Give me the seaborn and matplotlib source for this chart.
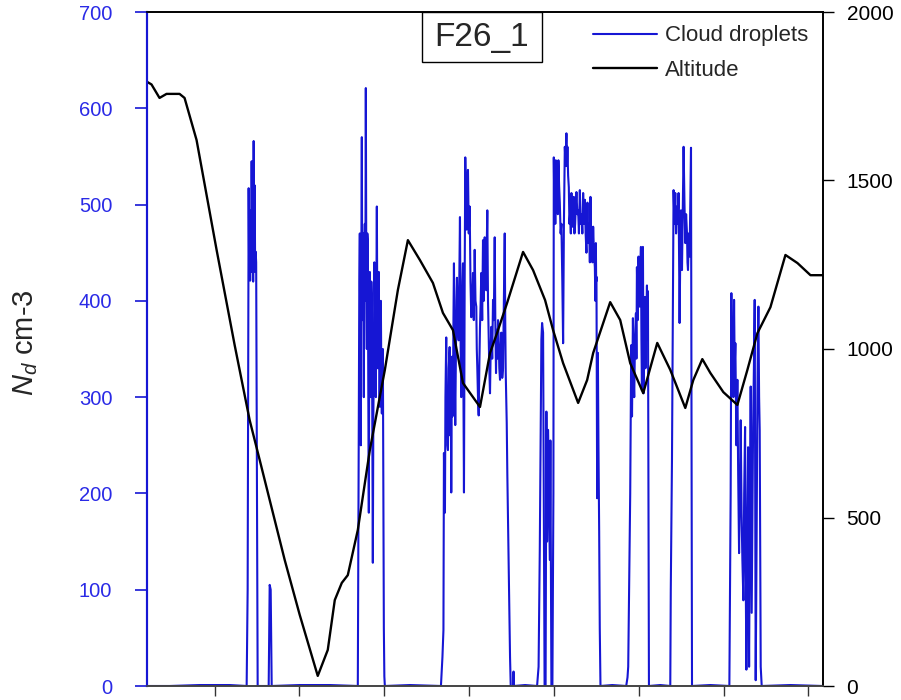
import numpy as np
import pandas as pd
import matplotlib
matplotlib.use("Agg")
import matplotlib.pyplot as plt
from matplotlib.patches import Rectangle
import seaborn as sns

# ---- flight F26_1: cloud droplet number concentration (cm-3) vs time ----
t_drop = [
    148, 170, 200, 230, 247,
    # first cloud pass
    248, 249, 249.5, 250, 250.5, 251, 251.5, 252, 252.5, 253, 253.5, 254, 254.5,
    255, 255.5, 256, 256.5, 257, 258,
    269, 270, 271, 272,
    300, 330, 357,
    # second cloud pass
    358, 358.5, 359, 359.5, 360, 360.5, 361, 361.5, 362, 362.5, 363, 363.5, 364,
    364.5, 365, 365.5, 366, 366.5, 367, 367.5, 368, 368.5, 369, 369.5, 370,
    370.5, 371, 371.5, 372, 372.5, 373, 373.5, 374, 374.5, 375, 375.5, 376,
    376.5, 377, 377.5, 378, 378.5, 379, 379.5, 380, 380.5, 381, 381.5, 382,
    382.5, 383, 383.5, 384, 384.5, 385,
    410, 441,
    # third cloud pass
    442.5, 443.5, 444, 444.5, 445, 445.5, 446.3, 446.7, 447, 447.5, 448, 448.8,
    449.7, 450.1, 450.5, 450.9, 451.3, 451.7, 452, 452.5, 453, 453.5, 454, 454.7,
    455.3, 455.7, 456, 456.5, 457, 457.8, 458.7, 459.3, 460, 460.7, 461.3, 461.7,
    462, 462.5, 463, 463.5, 464, 464.7, 465.3, 466, 466.7, 467.3, 468, 468.8,
    469.7, 470.5, 471.3, 472.2, 473, 473.8, 474.7, 475.5, 476.3, 476.8, 477.3,
    478, 478.7, 479.3, 480, 480.7, 481.3, 482.2, 483, 483.8, 484.7, 485.5, 486.3,
    486.8, 487.3, 488, 488.7, 489.3, 490, 490.7, 491.3, 492.2, 493, 493.8, 494.7,
    495.3, 496, 496.7, 497.3, 498, 498.7, 499.3, 500, 500.7, 501.3, 502.2, 503,
    503.8, 504.7, 505.2, 505.7, 506.2, 506.7, 507.3, 508, 508.7, 509.3, 510,
    510.7, 513, 513.5, 514,
    525, 537,
    # fourth cloud pass
    538.5, 539.7, 540.5, 541.3, 542, 543, 543.7, 544.5, 545.5, 546.3, 547, 548,
    549.7, 550.3, 551.3, 552.3,
    553.3, 553.7, 554.2, 554.7, 555.2, 555.7, 556.3, 557, 557.7, 558.3, 559,
    559.7, 560.5, 561.3, 562.2, 563, 563.8, 564.7, 565.5, 566.3, 566.8, 567.3,
    568, 568.7, 569.3, 570, 570.7, 571.3, 571.8, 572.3, 573, 573.7, 574.3, 575,
    575.7, 576.3, 577.2, 578, 578.8, 579.7, 580.5, 581.3, 582.2, 583, 583.8,
    584.7, 585.5, 586.3, 586.8, 587.3, 588.2, 589, 589.7, 590.3, 591, 591.7,
    592.3, 593, 593.8, 594.7, 595.2, 595.7, 596, 596.3, 597, 597.7, 598.3, 599,
    599.6, 600.3,
    612, 626,
    # fifth cloud pass
    627.3, 628, 630, 631, 631.8, 632.7, 633.4, 634, 634.8, 635.7, 636.2, 636.7,
    637.5, 638.3, 638.8, 639.3, 640, 640.7, 641.2, 641.7, 642.2, 642.7, 643.3,
    644, 644.7, 645.2, 645.7, 646.2, 646.7, 647.2, 647.7, 648.7,
    660, 670,
    670.5, 671.7, 672.7, 673.3, 674.2, 675, 675.8, 676.7, 677.5, 678.3, 678.8,
    679.3, 680, 680.7, 681.2, 681.7, 682.5, 683.3, 684.2, 685, 685.8, 686.7,
    687.2, 687.7, 688.5, 689.3, 690, 690.7, 691.7,
    710, 729,
    # sixth cloud pass
    730.3, 731, 731.6, 732.3, 733, 733.7, 734.3, 735, 736, 737, 737.8, 738.7,
    739.5, 740.3, 741.2, 742, 743, 743.8, 744.7, 745.3, 746, 746.8, 747.7, 748.2,
    748.7, 749.5, 750.3, 750.8, 751.3, 752, 752.7, 753.5, 754.3, 754.8, 755.3,
    756.2, 757, 757.5, 758, 758.7, 759.3, 759.8, 760.3, 761.3,
    790, 822,
]
n_drop = [
    0, 0, 1, 1, 0,
    100, 517, 430, 494, 421, 480, 430, 545, 440, 500, 420, 566, 460,
    520, 430, 451, 440, 300, 0,
    0, 105, 100, 0,
    1, 1, 0,
    0, 150, 300, 420, 470, 330, 250, 440, 570, 380, 420, 470, 300,
    450, 480, 400, 621, 420, 350, 470, 460, 300, 180, 380, 430,
    330, 300, 420, 400, 250, 128, 280, 330, 440, 420, 350, 300,
    400, 498, 380, 330, 420, 430, 300, 290, 380, 400, 320, 283,
    330, 350, 200, 60, 10, 0,
    1, 0,
    30, 58, 242, 200, 180, 300, 362, 280, 300, 250, 245, 330,
    352, 300, 260, 330, 201, 300, 342, 280, 300, 380, 439, 330,
    271, 320, 350, 400, 424, 380, 359, 420, 487, 350, 300, 350,
    380, 420, 439, 300, 201, 420, 549, 500, 474, 520, 536, 470,
    498, 420, 383, 400, 429, 380, 453, 400, 394, 350, 331,
    300, 281, 330, 373, 400, 429, 380, 463, 400, 466, 430, 411,
    460, 494, 400, 359, 330, 304, 350, 373, 340, 401, 380, 466,
    380, 325, 370, 340, 380, 359, 330, 318, 350, 367, 320, 330,
    400, 470, 380, 325, 300, 273, 220, 169, 120, 82, 30,
    0, 0, 15, 0,
    1, 0,
    20, 141, 250, 360, 377, 367, 200, 0, 0, 285, 150, 266,
    131, 255, 0, 0,
    200, 549, 500, 523, 480, 546, 510, 522, 490, 546, 520,
    502, 470, 480, 420, 356, 480, 560, 540, 574, 540, 560,
    530, 518, 480, 491, 470, 512, 490, 477, 500, 508, 470, 480,
    500, 513, 490, 494, 470, 515, 480, 490, 470, 512, 480,
    505, 470, 450, 480, 502, 460, 480, 440, 508, 460, 474,
    440, 477, 450, 435, 400, 460, 420, 425, 195, 346, 250, 160,
    60, 0,
    1, 0,
    9, 20, 200, 354, 280, 382, 320, 300, 360, 387, 340, 435,
    380, 446, 420, 394, 430, 456, 360, 307, 400, 456, 304,
    370, 404, 330, 356, 390, 416, 380, 410, 0,
    1, 0,
    100, 235, 422, 515, 480, 512, 470, 498, 480, 512, 440,
    377, 450, 494, 460, 432, 500, 560, 500, 460, 490, 470,
    440, 432, 470, 446, 500, 559, 0,
    1, 0,
    200, 408, 320, 380, 300, 401, 330, 356, 250, 318, 220, 138,
    200, 276, 180, 131, 89, 200, 269, 120, 17, 150, 248, 100,
    20, 180, 311, 200, 76, 180, 269, 330, 401, 200, 6,
    150, 300, 360, 394, 300, 266, 150, 20, 0,
    1, 0,
]

# ---- aircraft altitude (m) ----
t_alt = [
    148, 152, 160, 167, 180, 185, 197, 217, 235, 250, 260, 270, 285, 300, 318,
    328, 335, 342, 348, 358, 370, 385, 398, 408, 420, 433, 443, 453, 463, 480,
    490, 497, 507, 523, 533, 545, 553, 563, 578, 587, 593, 610, 620, 630, 643,
    657, 670, 685, 693, 702, 710, 723, 737, 747, 757, 770, 785, 797, 810, 822,
]
altitude = [
    1792, 1785, 1745, 1757, 1757, 1745, 1620, 1294, 1012, 789, 671, 552, 374,
    211, 30, 107, 255, 306, 329, 463, 700, 938, 1175, 1323, 1264, 1196, 1107,
    1056, 899, 828, 988, 1047, 1136, 1288, 1234, 1145, 1056, 958, 840, 908, 988,
    1139, 1086, 958, 869, 1018, 938, 825, 908, 970, 929, 872, 834, 938, 1047,
    1124, 1279, 1255, 1219, 1219,
]

flight_id = "F26_1"
series_names = ["Cloud droplets", "Altitude"]

drop_df = pd.DataFrame({"time": t_drop, "Nd": n_drop})
alt_df = pd.DataFrame({"time": t_alt, "alt": altitude})

sns.set_style("ticks")
plt.rcParams["font.family"] = ["Liberation Sans", "DejaVu Sans"]
plt.rcParams["mathtext.fontset"] = "custom"
plt.rcParams["mathtext.rm"] = "Liberation Sans"
plt.rcParams["mathtext.it"] = "Liberation Sans:italic"

BLUE = "#1616d4"
LABEL_BLUE = "#2a2ae6"

fig = plt.figure(figsize=(9.01, 7.0), dpi=100)
ax = fig.add_axes([147 / 901, 14 / 700, 676 / 901, 674 / 700])
ax2 = ax.twinx()

sns.lineplot(data=drop_df, x="time", y="Nd", ax=ax, color=BLUE, lw=1.5,
             estimator=None, sort=False, label=series_names[0], legend=False)
sns.lineplot(data=alt_df, x="time", y="alt", ax=ax2, color="black", lw=1.7,
             estimator=None, sort=False, label=series_names[1], legend=False)

ax.set_xlim(147.5, 822.5)
ax.set_ylim(0, 700)
ax2.set_ylim(0, 2000)
ax.set_xticks([215 + 84.7 * k for k in range(8)])
ax.set_yticks(range(0, 701, 100))
ax2.set_yticks(range(0, 2001, 500))
ax.set_xlabel("")
ax2.set_ylabel("")

ax.set_ylabel(r"$N_d$ cm-3", fontsize=21, rotation=90)
ax.yaxis.set_label_coords(-0.158, 0.51)

ax.tick_params(axis="y", colors=BLUE, labelcolor=LABEL_BLUE, length=9,
               width=1.2, pad=16, labelsize=14.5, direction="out")
ax.tick_params(axis="x", length=7, width=1.0, color="#333333",
               labelbottom=False, direction="out")
ax2.tick_params(axis="y", colors="black", length=8, width=1.0, pad=9,
                labelsize=15, direction="out")

for a in (ax, ax2):
    for s in a.spines.values():
        s.set_linewidth(1.2)
        s.set_color("black")
    a.spines["left"].set_color(BLUE)
    a.spines["left"].set_linewidth(1.5)
    a.spines["bottom"].set_color("#444444")

# flight label box at top of the panel
ax.add_patch(Rectangle((0.407, 0.926), 0.177, 0.074, transform=ax.transAxes,
                       fill=False, edgecolor="black", lw=1.0, zorder=5,
                       clip_on=False))
ax.text(0.4955, 0.962, flight_id, transform=ax.transAxes, ha="center",
        va="center", fontsize=24, zorder=6)

h1, l1 = ax.get_legend_handles_labels()
h2, l2 = ax2.get_legend_handles_labels()
ax2.legend(h1 + h2, l1 + l2, loc="upper right", bbox_to_anchor=(0.998, 1.0),
           frameon=False, fontsize=16, handlelength=2.9, handletextpad=0.35,
           labelspacing=0.6, borderaxespad=0.2)

fig.savefig("out.png", dpi=100)
